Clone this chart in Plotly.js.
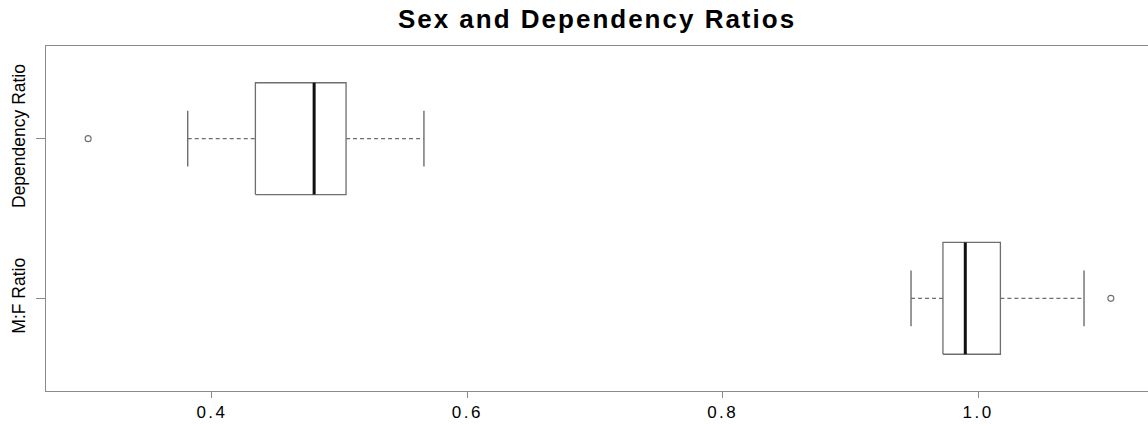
<!DOCTYPE html>
<html>
<head>
<meta charset="utf-8">
<script src="https://cdn.plot.ly/plotly-3.0.1.min.js"></script>
<style>
html,body{margin:0;padding:0;background:#fff;}
#chart{width:1148px;height:425px;}
.gtitle{letter-spacing:2px;}
.xtick text{letter-spacing:2.5px;}
</style>
</head>
<body>
<div id="chart"></div>
<script>
// Data (values on the x scale)
const categories = ["M:F Ratio", "Dependency Ratio"];
const positions = [1, 2];
const lowerWhisker = [0.9475, 0.381];
const q1 = [0.9725, 0.434];
const median = [0.990, 0.480];
const q3 = [1.0175, 0.505];
const upperWhisker = [1.083, 0.566];
const outliers = [[1.104], [0.303]];
const xTickVals = [0.4, 0.6, 0.8, 1.0];
const xTickText = ["0.4", "0.6", "0.8", "1.0"];

const HALF = 0.35;      // half box height (style)
const CAP = 0.175;      // half whisker cap height (style)
const edge = "#6e6e6e";

const traces = [];
categories.forEach((name, i) => {
  const p = positions[i];
  // box
  traces.push({
    type: "scatter", mode: "lines", hoverinfo: "skip", showlegend: false,
    x: [q1[i], q3[i], q3[i], q1[i], q1[i]],
    y: [p - HALF, p - HALF, p + HALF, p + HALF, p - HALF],
    line: {color: edge, width: 1.3}
  });
  // whiskers (dashed)
  traces.push({
    type: "scatter", mode: "lines", hoverinfo: "skip", showlegend: false,
    x: [lowerWhisker[i], q1[i], null, q3[i], upperWhisker[i]],
    y: [p, p, null, p, p],
    line: {color: edge, width: 1.1, dash: "4px,3px"}
  });
  // caps
  traces.push({
    type: "scatter", mode: "lines", hoverinfo: "skip", showlegend: false,
    x: [lowerWhisker[i], lowerWhisker[i], null, upperWhisker[i], upperWhisker[i]],
    y: [p - CAP, p + CAP, null, p - CAP, p + CAP],
    line: {color: edge, width: 1.4}
  });
  // median
  traces.push({
    type: "scatter", mode: "lines", hoverinfo: "skip", showlegend: false,
    x: [median[i], median[i]],
    y: [p - HALF, p + HALF],
    line: {color: "#111", width: 3}
  });
  // outliers
  traces.push({
    type: "scatter", mode: "markers", hoverinfo: "skip", showlegend: false,
    x: outliers[i],
    y: outliers[i].map(() => p),
    marker: {symbol: "circle-open", size: 6, color: edge, line: {width: 1.1, color: edge}}
  });
});

const layout = {
  width: 1148, height: 425,
  margin: {l: 46, r: 0, t: 46, b: 34, pad: 0},
  paper_bgcolor: "#fff", plot_bgcolor: "#fff",
  font: {family: "Liberation Sans, Arial, sans-serif", color: "#000"},
  title: {
    text: "<b>Sex and Dependency Ratios</b>",
    font: {family: "Liberation Sans, Arial, sans-serif", size: 26, color: "#000"},
    x: 0.5, xref: "paper", xanchor: "center",
    y: 1 - 19 / 425, yref: "container", yanchor: "middle"
  },
  xaxis: {
    range: [0.27, 1.1331],
    showgrid: false, zeroline: false,
    showline: true, mirror: true, linecolor: "#8a8a8a", linewidth: 1,
    ticks: "outside", ticklen: 6, tickcolor: "#8a8a8a", tickwidth: 1,
    tickvals: xTickVals, ticktext: xTickText,
    tickfont: {size: 17, color: "#000"}
  },
  yaxis: {
    range: [0.42, 2.58],
    showgrid: false, zeroline: false,
    showline: true, mirror: false, linecolor: "#8a8a8a", linewidth: 1,
    ticks: "outside", ticklen: 9, tickcolor: "#8a8a8a", tickwidth: 1,
    tickvals: positions, ticktext: categories,
    tickangle: -90, ticklabelstandoff: 4,
    tickfont: {size: 17.5, color: "#000"}
  }
};

Plotly.newPlot("chart", traces, layout, {staticPlot: true, displayModeBar: false});
</script>
</body>
</html>
